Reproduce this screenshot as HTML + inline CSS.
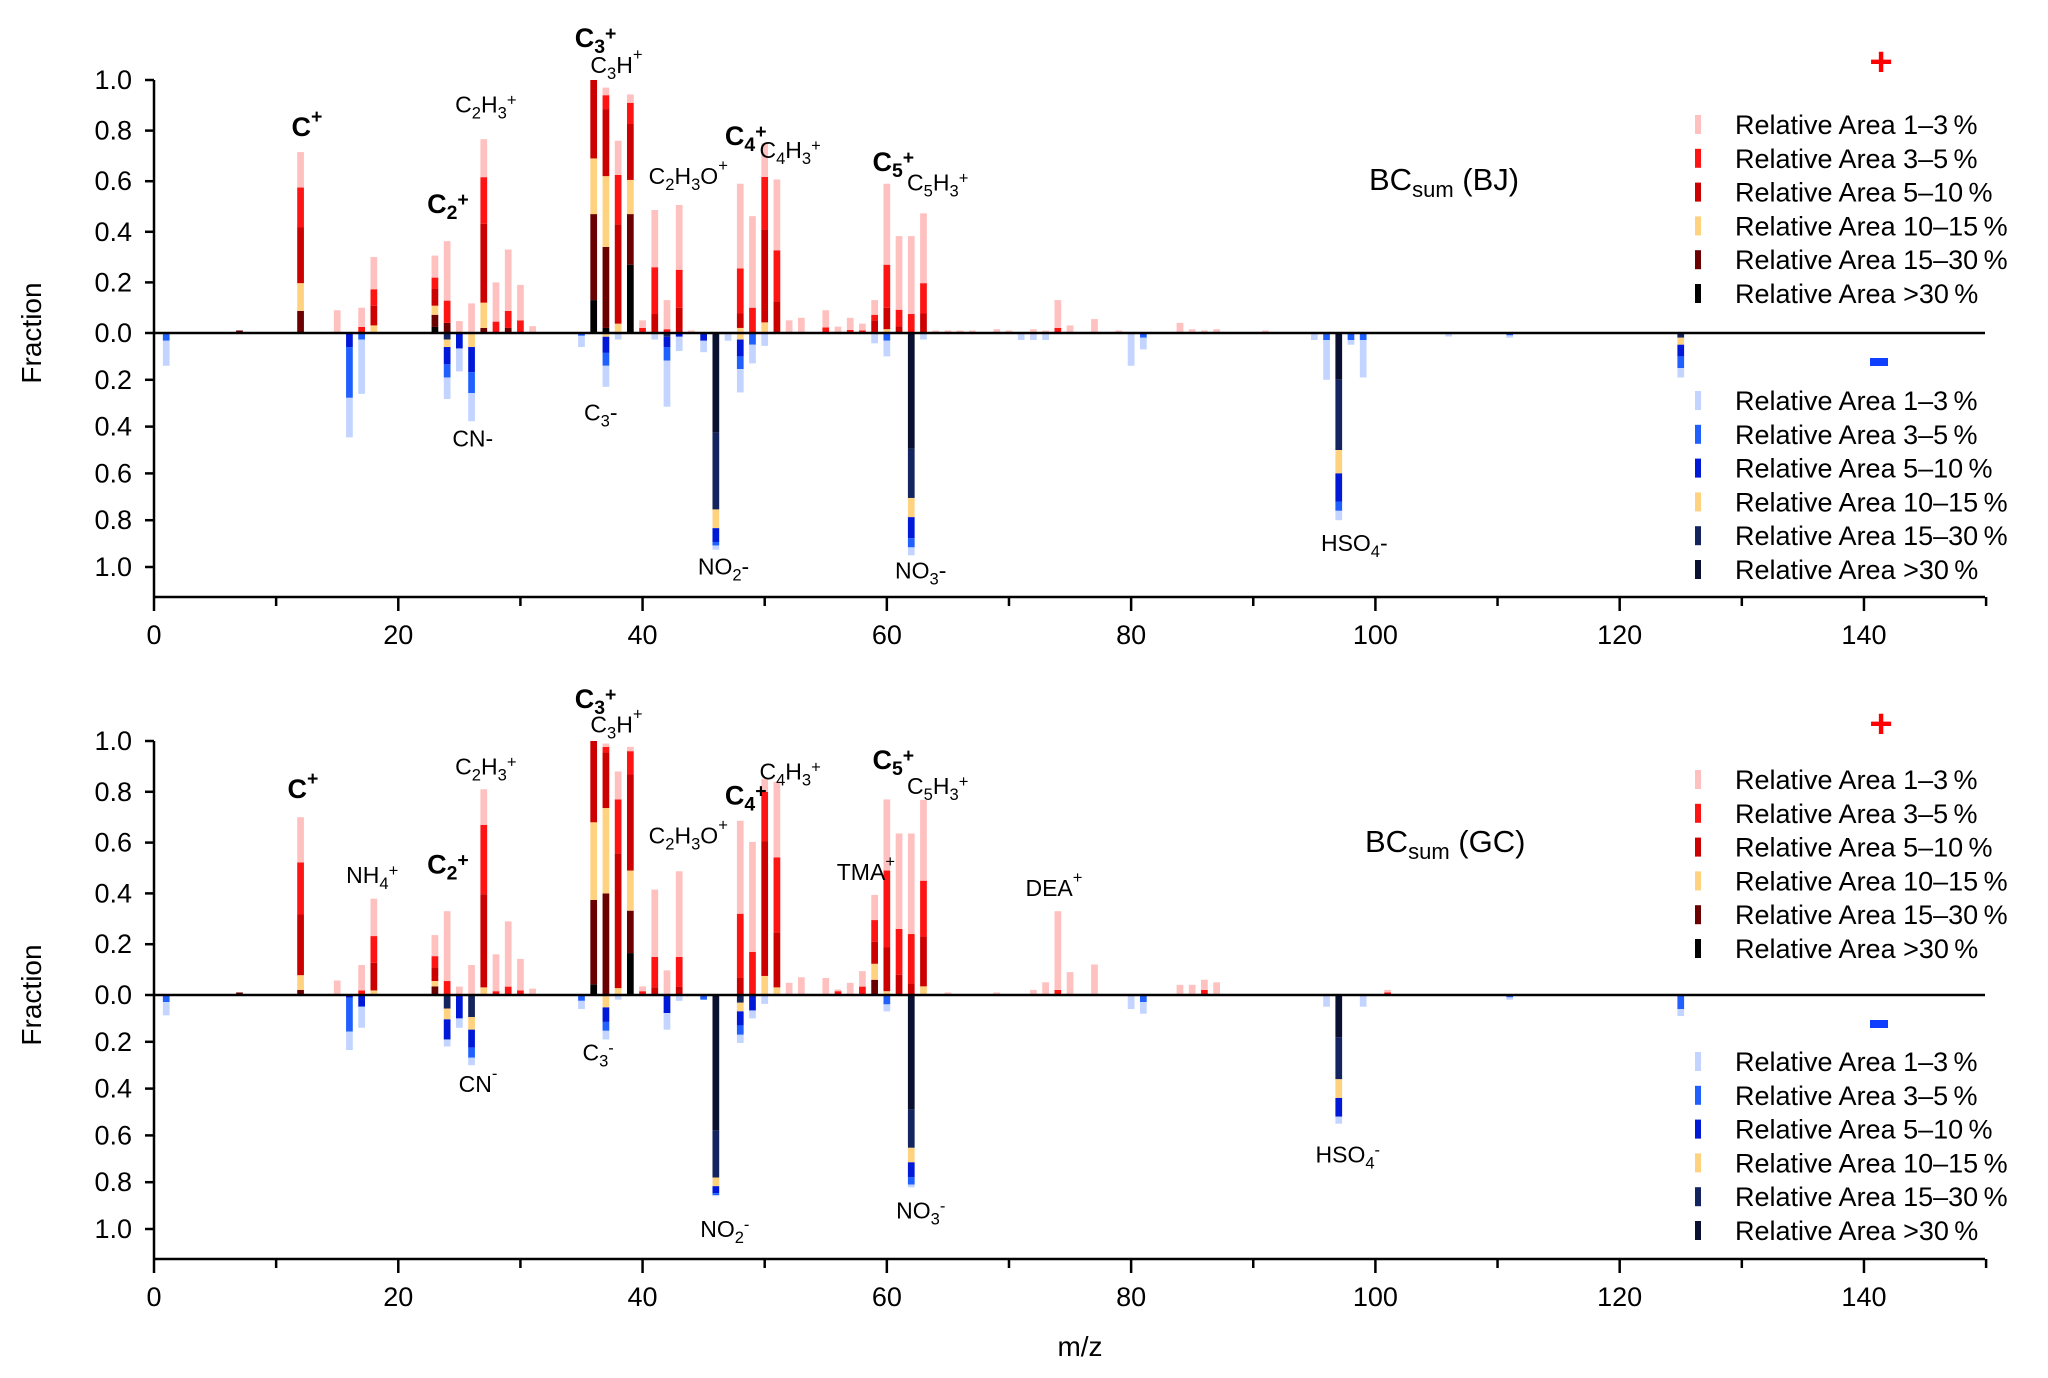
<!DOCTYPE html>
<html><head><meta charset="utf-8"><style>
html,body{margin:0;padding:0;background:#fff;}
svg{display:block;font-family:"Liberation Sans",sans-serif;}
</style></head><body>
<svg id="chart" width="2048" height="1378" viewBox="0 0 2048 1378" xmlns="http://www.w3.org/2000/svg"></svg>
<script>
// ---- data: cumulative stacks [>30, 15-30, 10-15, 5-10, 3-5, 1-3] ----
const bjPosMz = [7,12,15,17,18,23,24,25,26,27,28,29,30,31,36,37,38,39,40,41,42,43,44,48,49,50,51,52,53,55,56,57,58,59,60,61,62,63,64,65,66,67,69,70,72,73,74,75,77,79,84,85,86,87,91];
const bjPosCum = [[0,0.01,0.01,0.01,0.01,0.01],[0,0.087,0.197,0.417,0.575,0.715],[0,0,0,0,0,0.09],[0,0,0,0,0.024,0.10],[0,0,0.03,0.108,0.173,0.30],[0.024,0.072,0.108,0.174,0.219,0.306],[0,0.04,0.04,0.04,0.128,0.363],[0,0,0,0,0,0.047],[0,0,0,0,0,0.117],[0,0.02,0.12,0.432,0.616,0.766],[0,0,0,0,0.045,0.2],[0,0.02,0.02,0.02,0.087,0.33],[0,0,0,0,0.05,0.19],[0,0,0,0,0,0.027],[0.13,0.47,0.69,1.0,1.0,1.0],[0.02,0.34,0.62,0.885,0.94,0.97],[0,0,0.037,0.43,0.625,0.76],[0.27,0.47,0.605,0.826,0.91,0.943],[0,0,0,0,0.02,0.05],[0,0,0,0.075,0.26,0.486],[0,0,0,0,0.015,0.13],[0,0,0,0.1,0.25,0.506],[0,0,0,0,0,0.01],[0,0,0.02,0.077,0.255,0.59],[0,0,0,0,0.1,0.462],[0,0,0.042,0.41,0.617,0.75],[0,0,0,0.125,0.327,0.607],[0,0,0,0,0,0.05],[0,0,0,0,0,0.06],[0,0,0,0,0.022,0.09],[0,0,0,0,0,0.025],[0,0,0,0,0.012,0.06],[0,0,0,0,0.01,0.037],[0,0,0,0.05,0.072,0.13],[0,0,0.015,0.1,0.27,0.59],[0,0,0,0.027,0.092,0.383],[0,0,0,0,0.075,0.383],[0,0,0,0.077,0.197,0.473],[0,0,0,0,0,0.01],[0,0,0,0,0,0.01],[0,0,0,0,0,0.01],[0,0,0,0,0,0.01],[0,0,0,0,0,0.015],[0,0,0,0,0,0.01],[0,0,0,0,0,0.015],[0,0,0,0,0,0.01],[0,0,0,0,0.02,0.13],[0,0,0,0,0,0.03],[0,0,0,0,0,0.055],[0,0,0,0,0,0.01],[0,0,0,0,0,0.04],[0,0,0,0,0,0.015],[0,0,0,0,0,0.01],[0,0,0,0,0,0.015],[0,0,0,0,0,0.01]];
const bjNegMz = [1,16,17,24,25,26,35,37,38,41,42,43,45,46,47,48,49,50,59,60,62,63,71,72,73,80,81,95,96,97,98,99,106,111,125];
const bjNegCum = [[0,0,0,0,0.033,0.14],[0,0,0,0.06,0.277,0.446],[0,0,0,0,0.028,0.26],[0,0.028,0.06,0.134,0.19,0.282],[0,0,0,0.066,0.066,0.164],[0,0,0.06,0.167,0.257,0.377],[0,0,0,0,0.012,0.06],[0,0,0.016,0.085,0.14,0.23],[0,0,0,0,0,0.028],[0,0,0,0,0,0.028],[0,0.016,0.016,0.06,0.118,0.315],[0,0,0,0.016,0.016,0.077],[0,0,0,0.033,0.033,0.082],[0.426,0.754,0.834,0.893,0.908,0.926],[0,0,0,0,0,0.033],[0,0,0.028,0.1,0.154,0.254],[0,0,0,0,0.05,0.13],[0,0,0,0,0,0.055],[0,0,0,0,0,0.044],[0,0,0,0,0.033,0.1],[0.495,0.705,0.787,0.877,0.916,0.95],[0,0,0,0,0,0.028],[0,0,0,0,0,0.03],[0,0,0,0,0,0.03],[0,0,0,0,0,0.03],[0,0,0,0,0,0.14],[0,0,0,0,0.02,0.07],[0,0,0,0,0,0.03],[0,0,0,0,0.03,0.2],[0.2,0.5,0.6,0.72,0.76,0.8],[0,0,0,0,0.03,0.05],[0,0,0,0,0.03,0.19],[0,0,0,0,0,0.015],[0,0,0,0,0.01,0.02],[0,0.02,0.05,0.1,0.15,0.19]];
const gcPosMz = [7,12,15,17,18,23,24,25,26,27,28,29,30,31,36,37,38,39,40,41,42,43,48,49,50,51,52,53,55,56,57,58,59,60,61,62,63,65,69,72,73,74,75,77,84,85,86,87,101];
const gcPosCum = [[0,0.01,0.01,0.01,0.01,0.01],[0,0.02,0.078,0.317,0.522,0.7],[0,0,0,0,0,0.057],[0,0,0,0,0.018,0.118],[0,0,0.018,0.127,0.232,0.379],[0,0.034,0.055,0.108,0.153,0.236],[0,0,0,0,0.055,0.33],[0,0,0,0,0,0.033],[0,0,0,0,0,0.118],[0,0,0.03,0.397,0.67,0.81],[0,0,0,0,0.015,0.16],[0,0,0,0,0.033,0.29],[0,0,0,0,0.018,0.142],[0,0,0,0,0,0.025],[0.042,0.374,0.68,1.0,1.0,1.0],[0,0.4,0.736,0.955,0.977,0.99],[0,0,0.027,0.558,0.77,0.88],[0.165,0.332,0.49,0.868,0.96,0.977],[0,0,0,0,0.015,0.034],[0,0,0,0.03,0.15,0.415],[0,0,0,0,0,0.097],[0,0,0,0.033,0.15,0.487],[0,0,0,0.067,0.32,0.686],[0,0,0,0,0.17,0.603],[0,0,0.075,0.606,0.8,0.85],[0,0,0.03,0.247,0.542,0.84],[0,0,0,0,0,0.048],[0,0,0,0,0,0.07],[0,0,0,0,0,0.067],[0,0,0,0,0.015,0.022],[0,0,0,0,0,0.048],[0,0,0,0,0.033,0.094],[0,0.06,0.123,0.21,0.295,0.394],[0,0,0.015,0.187,0.49,0.77],[0,0,0,0.08,0.26,0.636],[0,0,0,0.045,0.24,0.636],[0,0,0.034,0.23,0.45,0.768],[0,0,0,0,0,0.01],[0,0,0,0,0,0.01],[0,0,0,0,0,0.02],[0,0,0,0,0,0.05],[0,0,0,0,0.02,0.33],[0,0,0,0,0,0.09],[0,0,0,0,0,0.12],[0,0,0,0,0,0.04],[0,0,0,0,0,0.04],[0,0,0,0,0.02,0.06],[0,0,0,0,0,0.05],[0,0,0,0,0.01,0.02]];
const gcNegMz = [1,16,17,24,25,26,35,37,38,42,43,45,46,48,49,50,60,62,80,81,96,97,99,111,125];
const gcNegCum = [[0,0,0,0,0.03,0.087],[0,0,0,0.012,0.156,0.235],[0,0,0,0.05,0.05,0.14],[0,0.058,0.104,0.19,0.19,0.22],[0,0,0,0.1,0.1,0.14],[0,0.094,0.148,0.225,0.268,0.3],[0,0,0,0,0.025,0.06],[0,0,0.053,0.115,0.153,0.19],[0,0,0,0,0,0.02],[0,0,0,0.077,0.077,0.148],[0,0,0,0,0,0.025],[0,0,0,0,0.02,0.02],[0.58,0.78,0.817,0.847,0.855,0.86],[0,0.033,0.07,0.13,0.17,0.205],[0,0,0,0.066,0.066,0.1],[0,0,0,0,0,0.038],[0,0,0,0,0.04,0.07],[0.49,0.653,0.715,0.778,0.81,0.822],[0,0,0,0,0,0.06],[0,0,0,0,0.03,0.08],[0,0,0,0,0,0.05],[0.18,0.36,0.44,0.52,0.52,0.55],[0,0,0,0,0,0.05],[0,0,0,0,0.01,0.02],[0,0,0,0,0.06,0.09]];
const xTicks = [0,20,40,60,80,100,120,140];
const yTicks = ["0.0","0.2","0.4","0.6","0.8","1.0"];
const legendLabels = ["Relative Area 1\u20133\u2009%","Relative Area 3\u20135\u2009%","Relative Area 5\u201310\u2009%","Relative Area 10\u201315\u2009%","Relative Area 15\u201330\u2009%","Relative Area >30\u2009%"];
const posColors = ["#000000","#6b0000","#ffd27f","#cc0000","#ff1414","#ffc0c0"];
const negColors = ["#0a1030","#14245e","#ffd27f","#0018d8","#2060ff","#c2d4ff"];

const svg = document.getElementById('chart');
const NS = 'http://www.w3.org/2000/svg';
function mk(tag, attrs, parent){const e=document.createElementNS(NS,tag);for(const k in attrs)e.setAttribute(k,attrs[k]);(parent||svg).appendChild(e);return e;}

const X0=154, XS=12.214;
function xScale(m){return X0+m*XS;}

const panels=[
 {name:'bj',zero:333,ps:253,ns:234,axisY:597,posMz:bjPosMz,posCum:bjPosCum,negMz:bjNegMz,negCum:bjNegCum},
 {name:'gc',zero:995,ps:254,ns:234,axisY:1259,posMz:gcPosMz,posCum:gcPosCum,negMz:gcNegMz,negCum:gcNegCum}
];

panels.forEach(p=>{
  const g=mk('g',{});
  
  
  const bw=0.55*XS;
  p.posMz.forEach((m,i)=>{
    const cum=p.posCum[i]; let prev=0;
    cum.forEach((c,j)=>{
      if(c>prev){
        const r=mk('rect',{x:xScale(m)-bw/2,y:p.zero-c*p.ps,width:bw,height:(c-prev)*p.ps,fill:posColors[j]},g);
        
        
        prev=c;
      }
    });
  });
  p.negMz.forEach((m,i)=>{
    const cum=p.negCum[i]; let prev=0;
    cum.forEach((c,j)=>{
      if(c>prev){
        const r=mk('rect',{x:xScale(m)-bw/2,y:p.zero+prev*p.ns,width:bw,height:(c-prev)*p.ns,fill:negColors[j]},g);
        
        
        prev=c;
      }
    });
  });
  const zl=mk('line',{x1:X0,x2:1985,y1:p.zero,y2:p.zero,stroke:'#000','stroke-width':2.5},g);
  
  
  const ya=mk('line',{x1:X0,x2:X0,y1:p.zero-p.ps,y2:p.axisY,stroke:'#000','stroke-width':2.5},g);
  
  
  yTicks.forEach((t,i)=>{
    const v=i*0.2;
    const ys=[p.zero-v*p.ps]; if(i>0) ys.push(p.zero+v*p.ns);
    ys.forEach(y=>{
      mk('line',{x1:X0-9,x2:X0,y1:y,y2:y,stroke:'#000','stroke-width':2.5},g);
      const tx=mk('text',{x:X0-22,y:y+9,'text-anchor':'end','font-size':27},g);
      tx.textContent=t;
      
      
    });
  });
  const xa=mk('line',{x1:X0,x2:1985,y1:p.axisY,y2:p.axisY,stroke:'#000','stroke-width':2.5},g);
  
  
  for(let m=0;m<=150;m+=10){
    mk('line',{x1:xScale(m),x2:xScale(m),y1:p.axisY,y2:p.axisY+(m%20===0?14:9),stroke:'#000','stroke-width':2.5},g);
  }
  xTicks.forEach(t=>{
    const tx=mk('text',{x:xScale(t),y:p.axisY+47,'text-anchor':'middle','font-size':27},g);
    tx.textContent=t;
    
    
  });
  const yt=mk('text',{x:0,y:0,'text-anchor':'middle','font-size':28,transform:'translate(41,'+(p.zero)+') rotate(-90)'},g);
  yt.textContent='Fraction';
  
  
  const legTop = p.name==='bj'?[125,401]:[780,1062];
  legTop.forEach((ly,k)=>{
    const cols=k===0?posColors:negColors;
    for(let i=0;i<6;i++){
      const y=ly+i*33.8;
      const e=mk('g',{},g);
      
      
      mk('rect',{x:1695,y:y-10,width:6,height:19,fill:cols[5-i]},e);
      const tx=mk('text',{x:1735,y:y+9,'font-size':27},e);
      tx.textContent=legendLabels[i];
    }
  });
  const plus=mk('text',{x:1881,y:p.zero-258,'text-anchor':'middle','font-size':40,'font-weight':'bold',fill:'#ff0000'},g);
  plus.textContent='+';
  
  
  const mn=mk('rect',{x:1870,y:p.zero+25,width:18,height:8,fill:'#1040ff'},g);
  
  
});

function label(parts,x,y,bold,size){
  size=size||23;
  const t=mk('text',{x:x,y:y,'text-anchor':'middle','font-size':size,'font-weight':bold?'bold':'normal'});
  
  
  parts.forEach(pt=>{
    const s=mk('tspan',{},t);
    if(pt[1]==='sub'){s.setAttribute('font-size',size*0.72);s.setAttribute('dy','6');}
    if(pt[1]==='sup'){s.setAttribute('font-size',size*0.72);s.setAttribute('dy','-13');}
    if(pt[1]==='n'){s.setAttribute('dy','6');}
    if(pt[1]==='up'){s.setAttribute('dy','-6');}
    s.textContent=pt[0];
  });
}
const S=1.306;
function L(str,dx,dy,bold,size){label(str,dx*S,dy*S,bold,size);}
L([['C'],['+','sup']],235,104,true,27);
L([['C'],['2','sub'],['+','sup']],343,163,true,27);
L([['C'],['2','sub'],['H','up'],['3','sub'],['+','sup']],372,86);
L([['C'],['3','sub'],['+','sup']],456,36,true,27);
L([['C'],['3','sub'],['H','up'],['+','sup']],472,56);
L([['C'],['2','sub'],['H','up'],['3','sub'],['O','up'],['+','sup']],527,141);
L([['C'],['4','sub'],['+','sup']],571,111,true,27);
L([['C'],['4','sub'],['H','up'],['3','sub'],['+','sup']],605,121);
L([['C'],['5','sub'],['+','sup']],684,131,true,27);
L([['C'],['5','sub'],['H','up'],['3','sub'],['+','sup']],718,146);
L([['CN-']],362,342);
L([['C'],['3','sub'],['-','up']],460,322);
L([['NO'],['2','sub'],['-','up']],554,440);
L([['NO'],['3','sub'],['-','up']],705,443);
L([['HSO'],['4','sub'],['-','up']],1037,422);
L([['C'],['+','sup']],232,611,true,27);
L([['NH'],['4','sub'],['+','sup']],285,676);
L([['C'],['2','sub'],['+','sup']],343,669,true,27);
L([['C'],['2','sub'],['H','up'],['3','sub'],['+','sup']],372,593);
L([['C'],['3','sub'],['+','sup']],456,542,true,27);
L([['C'],['3','sub'],['H','up'],['+','sup']],472,561);
L([['C'],['2','sub'],['H','up'],['3','sub'],['O','up'],['+','sup']],527,646);
L([['C'],['4','sub'],['+','sup']],571,616,true,27);
L([['C'],['4','sub'],['H','up'],['3','sub'],['+','sup']],605,597);
L([['C'],['5','sub'],['+','sup']],684,589,true,27);
L([['C'],['5','sub'],['H','up'],['3','sub'],['+','sup']],718,608);
L([['TMA'],['+','sup']],663,674);
L([['DEA'],['+','sup']],807,686);
L([['CN'],['-','sup']],366,836);
L([['C'],['3','sub'],['-','sup']],458,812);
L([['NO'],['2','sub'],['-','sup']],555,947);
L([['NO'],['3','sub'],['-','sup']],705,933);
L([['HSO'],['4','sub'],['-','sup']],1032,890);

[['(BJ)',1369,190],['(GC)',1365,852]].forEach(b=>{
  const t=mk('text',{x:b[1],y:b[2],'font-size':31});
  
  
  const a=mk('tspan',{},t);a.textContent='BC';
  const s=mk('tspan',{'font-size':22,dy:7},t);s.textContent='sum';
  const c=mk('tspan',{dy:-7},t);c.textContent=' '+b[0];
});
const xt=mk('text',{x:1080,y:1356,'text-anchor':'middle','font-size':28});
xt.textContent='m/z';


</script>
</body></html>
